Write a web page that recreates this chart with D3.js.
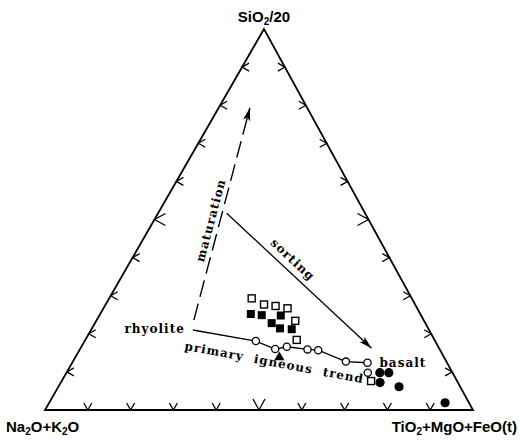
<!DOCTYPE html>
<html lang="en">

<head>
    <meta charset="utf-8">
    <title>Ternary diagram: SiO2/20 - Na2O+K2O - TiO2+MgO+FeO(t)</title>
    <script type="text/javascript" src="https://d3js.org/d3.v7.min.js" charset="utf-8"></script>
    <style type="text/css">
    body {
        margin: 0;
        background: white;
    }

    .corner {
        font-family: "Liberation Sans", Arial, sans-serif;
        font-weight: bold;
        font-size: 15px;
    }

    .note {
        font-family: "DejaVu Serif", serif;
        font-weight: bold;
        font-size: 12px;
        letter-spacing: 1px;
    }
    </style>
</head>

<body>
    <script type="text/javascript">
    // every composition is [SiO2/20, Na2O+K2O, TiO2+MgO+FeO(t)] in %
    var openSquares = [
        [29.3, 37.4, 33.3], [27.7, 35.3, 37.0], [27.3, 32.8, 39.9], [26.7, 30.3, 43.0],
        [23.4, 30.1, 46.5], [18.4, 32.2, 49.4], [7.6, 20.1, 72.3]
    ];
    var filledSquares = [
        [25.2, 39.6, 35.2], [24.9, 37.2, 37.9], [24.8, 32.8, 42.4],
        [22.8, 35.9, 41.3], [21.4, 34.6, 43.9], [21.2, 32.0, 46.8]
    ];
    var openCircles = [
        [18.1, 41.9, 40.0], [16.0, 38.4, 45.6], [16.6, 35.4, 48.0], [15.9, 30.9, 53.2],
        [15.7, 28.5, 55.8], [12.7, 23.5, 63.8], [12.4, 18.6, 69.0], [9.8, 19.8, 70.4]
    ];
    var filledCircles = [
        [9.8, 17.0, 73.3], [9.8, 14.9, 75.4], [7.2, 18.2, 74.6], [6.1, 14.3, 79.6], [1.9, 5.6, 92.5]
    ];
    var filledTriangles = [[13.8, 38.5, 47.7]];

    // trend and arrows
    var rhyolite = [21.0, 55.2, 23.8];
    var trendLine = [rhyolite].concat(openCircles.slice(0, 7));
    var maturationArrow = [[23.6, 53.7, 22.7], [79.3, 13.4, 7.3]];
    var sortingArrow = [[51.6, 32.3, 16.0], [16.2, 15.8, 68.0]];

    // labels and ticks
    var cornerLabels = [["SiO", "2", "/20"], ["Na", "2", "O+K", "2", "O"], ["TiO", "2", "+MgO+FeO(t)"]];
    var tickSteps = [10, 20, 30, 40, 50, 60, 70, 80, 90];

    var outer_width = 520;
    var outer_height = 442;

    // triangle corners in pixels
    var leftX = 45, rightX = 473, baseY = 410, apexX = 264, apexY = 29;

    var yScale = d3.scaleLinear().domain([0, 100]).range([baseY, apexY]);
    var cScale = d3.scaleLinear().domain([0, 100]).range([0, rightX - leftX]);
    var shiftScale = d3.scaleLinear().domain([0, 100]).range([0, apexX - leftX]);

    function project(d) {
        var s = d[0] + d[1] + d[2];
        var a = d[0] * 100 / s;
        var c = d[2] * 100 / s;
        return [leftX + cScale(c) + shiftScale(a), yScale(a)];
    }

    var svg = d3.select("body")
        .append("svg")
        .attr("width", outer_width)
        .attr("height", outer_height);

    var defs = svg.append("defs");
    defs.append("marker")
        .attr("id", "head")
        .attr("viewBox", "0 -5 14 10")
        .attr("refX", 13)
        .attr("refY", 0)
        .attr("markerWidth", 14)
        .attr("markerHeight", 10)
        .attr("markerUnits", "userSpaceOnUse")
        .attr("orient", "auto")
        .append("path")
        .attr("d", "M0,-3.6L13,0L0,3.6L3,0Z")
        .attr("fill", "black");

    var cornerTop = project([100, 0, 0]);
    var cornerLeft = project([0, 100, 0]);
    var cornerRight = project([0, 0, 100]);

    // triangle frame
    svg.append("path")
        .attr("d", d3.line()([cornerTop, cornerLeft, cornerRight]) + "Z")
        .attr("fill", "none")
        .attr("stroke", "black")
        .attr("stroke-width", 1.8)
        .attr("stroke-linejoin", "miter");

    // chevron ticks pointing into the triangle
    var edges = [
        { pt: function(t) { return project([0, 100 - t, t]); }, dir: [0, -1] },
        { pt: function(t) { return project([100 - t, t, 0]); }, dir: [1, 0] },
        { pt: function(t) { return project([100 - t, 0, t]); }, dir: [-1, 0] }
    ];
    edges.forEach(function(e) {
        svg.append("g").selectAll("path")
            .data(tickSteps)
            .enter()
            .append("path")
            .attr("d", function(t) {
                var p = e.pt(t);
                var len = t == 50 ? 11 : 7;
                var spread = t == 50 ? 6 : 4;
                var px = -e.dir[1], py = e.dir[0];
                var a1 = [p[0] + e.dir[0] * len + px * spread, p[1] + e.dir[1] * len + py * spread];
                var a2 = [p[0] + e.dir[0] * len - px * spread, p[1] + e.dir[1] * len - py * spread];
                return d3.line()([a1, p, a2]);
            })
            .attr("fill", "none")
            .attr("stroke", "black")
            .attr("stroke-width", 1.3);
    });

    // corner labels
    var cornerPos = [
        { x: cornerTop[0], y: cornerTop[1] - 7, anchor: "middle" },
        { x: cornerLeft[0] - 39, y: cornerLeft[1] + 22, anchor: "start" },
        { x: cornerRight[0] + 44, y: cornerRight[1] + 22, anchor: "end" }
    ];
    cornerLabels.forEach(function(parts, i) {
        var t = svg.append("text")
            .attr("class", "corner")
            .attr("x", cornerPos[i].x)
            .attr("y", cornerPos[i].y)
            .attr("text-anchor", cornerPos[i].anchor);
        var sub = false;
        parts.forEach(function(p, j) {
            var isSub = j % 2 == 1;
            t.append("tspan")
                .text(p)
                .attr("font-size", isSub ? "10px" : null)
                .attr("dy", isSub ? 3 : (sub ? -3 : 0));
            sub = isSub;
        });
    });

    // maturation (dashed) and sorting arrows
    svg.append("path")
        .attr("d", d3.line()(maturationArrow.map(project)))
        .attr("stroke", "black")
        .attr("stroke-width", 1.4)
        .attr("stroke-dasharray", "17,7")
        .attr("marker-end", "url(#head)");

    svg.append("path")
        .attr("d", d3.line()(sortingArrow.map(project)))
        .attr("stroke", "black")
        .attr("stroke-width", 1.3)
        .attr("marker-end", "url(#head)");

    // put a label parallel to a segment
    function alongLabel(seg, text, dx, dy, anchor) {
        var p0 = seg[0], p1 = seg[seg.length - 1];
        var ang = Math.atan2(p1[1] - p0[1], p1[0] - p0[0]) * 180 / Math.PI;
        var mid = anchor == "middle" ? [(p0[0] + p1[0]) / 2, (p0[1] + p1[1]) / 2] : p0;
        svg.append("text")
            .attr("class", "note")
            .attr("transform", "translate(" + mid[0] + "," + mid[1] + ") rotate(" + ang + ")")
            .attr("x", dx)
            .attr("y", dy)
            .attr("text-anchor", anchor)
            .text(text);
    }

    alongLabel(maturationArrow.map(project), "maturation", -9, -5, "middle");
    alongLabel(sortingArrow.map(project), "sorting", -19, -7, "middle");

    // primary igneous trend
    var trendPts = trendLine.map(project);
    svg.append("path")
        .attr("d", d3.line()(trendPts))
        .attr("fill", "none")
        .attr("stroke", "black")
        .attr("stroke-width", 1.3);

    alongLabel([trendPts[0], trendPts[trendPts.length - 1]], "primary\u00a0 igneous\u00a0 trend", -5, 21, "start");

    svg.append("text")
        .attr("class", "note")
        .attr("x", trendPts[0][0] - 8)
        .attr("y", trendPts[0][1] + 3)
        .attr("text-anchor", "end")
        .text("rhyolite");

    svg.append("text")
        .attr("class", "note")
        .attr("x", trendPts[trendPts.length - 1][0] + 12)
        .attr("y", trendPts[trendPts.length - 1][1] + 4)
        .text("basalt");

    // samples
    svg.append("g").selectAll("rect")
        .data(openSquares)
        .enter()
        .append("rect")
        .attr("x", function(d) { return project(d)[0] - 3.5; })
        .attr("y", function(d) { return project(d)[1] - 3.5; })
        .attr("width", 7)
        .attr("height", 7)
        .attr("fill", "white")
        .attr("stroke", "black")
        .attr("stroke-width", 1.4);

    svg.append("g").selectAll("rect")
        .data(filledSquares)
        .enter()
        .append("rect")
        .attr("x", function(d) { return project(d)[0] - 4; })
        .attr("y", function(d) { return project(d)[1] - 4; })
        .attr("width", 8)
        .attr("height", 8)
        .attr("fill", "black");

    svg.append("g").selectAll("circle")
        .data(openCircles)
        .enter()
        .append("circle")
        .attr("cx", function(d) { return project(d)[0]; })
        .attr("cy", function(d) { return project(d)[1]; })
        .attr("r", 3.6)
        .attr("fill", "white")
        .attr("stroke", "black")
        .attr("stroke-width", 1.3);

    svg.append("g").selectAll("circle")
        .data(filledCircles)
        .enter()
        .append("circle")
        .attr("cx", function(d) { return project(d)[0]; })
        .attr("cy", function(d) { return project(d)[1]; })
        .attr("r", 4.6)
        .attr("fill", "black");

    svg.append("g").selectAll("path")
        .data(filledTriangles)
        .enter()
        .append("path")
        .attr("transform", function(d) { return "translate(" + project(d) + ")"; })
        .attr("d", d3.symbol().type(d3.symbolTriangle).size(45))
        .attr("fill", "black");
    </script>
</body>

</html>
